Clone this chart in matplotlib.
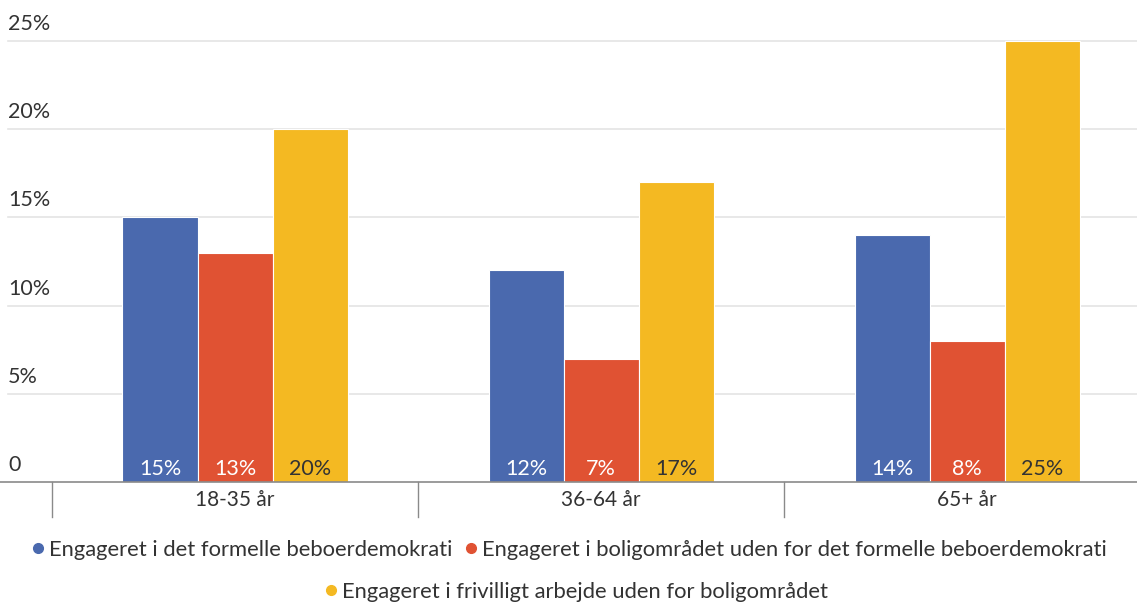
import matplotlib

matplotlib.use("Agg")
import matplotlib.pyplot as plt
import numpy as np
from matplotlib.lines import Line2D

categories = ["18-35 år", "36-64 år", "65+ år"]
series_names = [
    "Engageret i det formelle beboerdemokrati",
    "Engageret i boligområdet uden for det formelle beboerdemokrati",
    "Engageret i frivilligt arbejde uden for boligområdet",
]
formelle = [15, 12, 14]
boligomraadet = [13, 7, 8]
frivilligt = [20, 17, 25]
y_ticks = [0, 5, 10, 15, 20, 25]
y_tick_labels = ["0", "5%", "10%", "15%", "20%", "25%"]

colors = ["#4a69ae", "#e05233", "#f4b922"]
label_colors = ["white", "white", "#333333"]
text_color = "#333333"

plt.rcParams["font.family"] = ["Lato", "DejaVu Sans"]

W, H = 1137, 603
fig = plt.figure(figsize=(W / 100, H / 100), dpi=100)
ax_bottom, ax_top = 482, 36
ax = fig.add_axes([0, 1 - ax_bottom / H, 1, (ax_bottom - ax_top) / H])

px_per_cat = 366
left_px = 52
x0 = -0.5 - left_px / px_per_cat
x1 = x0 + W / px_per_cat
ax.set_xlim(x0, x1)
ax.set_ylim(0, 25 * (ax_bottom - ax_top) / (482 - 41))

x = np.arange(len(categories))
width = 75 / px_per_cat
values = [formelle, boligomraadet, frivilligt]

# grid lines + y labels drawn manually (labels sit above the lines)
grid_start = x0 + 8 / px_per_cat
for t, lab in zip(y_ticks, y_tick_labels):
    if t > 0:
        ax.plot([grid_start, x1], [t, t], color="#e4e4e4", lw=1.2, zorder=0)
    ax.text(grid_start, t + 0.4, lab, ha="left", va="bottom",
            fontsize=15.5, color=text_color)

for i, (vals, c, lc) in enumerate(zip(values, colors, label_colors)):
    xs = x + (i - 1) * width
    ax.bar(xs, vals, width, color=c, edgecolor="white", linewidth=0.8, zorder=2)
    for xi, v in zip(xs, vals):
        ax.text(xi, 0.75, f"{v}%", ha="center", va="center",
                fontsize=15.5, color=lc, zorder=3)

# baseline and category separators
ax.axhline(0, color="#8a8a8a", lw=1.2, zorder=4, clip_on=False)
for b in np.arange(len(categories) + 1) - 0.5:
    ax.plot([b, b], [0, -35 / 17.64], color="#8a8a8a", lw=1, clip_on=False)
for xi, cat in zip(x, categories):
    ax.text(xi, -18 / 17.64, cat, ha="center", va="center",
            fontsize=15, color=text_color)

ax.axis("off")

handles = [Line2D([], [], marker="o", ls="", color=c, markersize=7) for c in colors]
common = dict(frameon=False, fontsize=15.8, handletextpad=0.15, columnspacing=0.5,
              handlelength=0.7, labelcolor=text_color)
fig.legend(handles[:2], series_names[:2], loc="center", ncol=2,
           bbox_to_anchor=(0.5, 1 - 550 / H), **common)
fig.legend(handles[2:], series_names[2:], loc="center", ncol=1,
           bbox_to_anchor=(576 / W, 1 - 592 / H), **common)

fig.savefig("out.png", dpi=100)
